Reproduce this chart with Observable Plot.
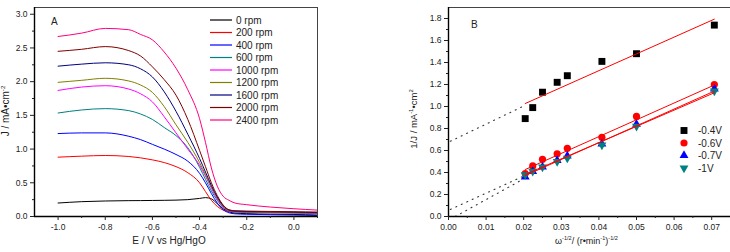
<!DOCTYPE html>
<html>
<head>
<meta charset="utf-8">
<script src="https://cdn.jsdelivr.net/npm/d3@7"></script>
<script src="https://cdn.jsdelivr.net/npm/@observablehq/plot@0.6"></script>
<style>
  body { margin: 0; background: #fff; font-family: "Liberation Sans", Arial, sans-serif; }
  #wrap { position: relative; width: 730px; height: 252px; overflow: hidden; }
  #wrap svg { position: absolute; top: 0; overflow: visible; }
</style>
</head>
<body>
<div id="wrap"></div>
<script>
// ---------- Panel A: linear sweep voltammograms at several rotation rates ----------
const potentials = [-1.0, -0.9, -0.8, -0.7, -0.65, -0.6, -0.55, -0.5, -0.45, -0.4,
                    -0.375, -0.35, -0.325, -0.3, -0.275, -0.25, -0.2, -0.1, 0.0, 0.1];
const rpmLabels = ["0 rpm", "200 rpm", "400 rpm", "600 rpm", "1000 rpm", "1200 rpm", "1600 rpm", "2000 rpm", "2400 rpm"];
const rpmColors = ["#000000", "#FF0000", "#0000FF", "#008080", "#FF00FF", "#808000", "#000080", "#800000", "#FF0080"];

const j0    = [0.20, 0.22, 0.23, 0.235, 0.236, 0.238, 0.240, 0.243, 0.250, 0.268, 0.280, 0.262, 0.190, 0.115, 0.070, 0.050, 0.042, 0.035, 0.030, 0.022];
const j200  = [0.88, 0.895, 0.905, 0.89, 0.87, 0.84, 0.80, 0.74, 0.65, 0.50, 0.37, 0.24, 0.15, 0.095, 0.075, 0.068, 0.062, 0.057, 0.052, 0.046];
const j400  = [1.23, 1.24, 1.24, 1.19, 1.14, 1.07, 1.00, 0.92, 0.82, 0.64, 0.50, 0.34, 0.20, 0.10, 0.055, 0.040, 0.033, 0.027, 0.022, 0.015];
const j600  = [1.535, 1.58, 1.60, 1.57, 1.52, 1.44, 1.32, 1.20, 1.02, 0.73, 0.55, 0.38, 0.24, 0.13, 0.08, 0.068, 0.063, 0.058, 0.053, 0.048];
const j1000 = [1.87, 1.92, 1.94, 1.89, 1.82, 1.70, 1.48, 1.24, 1.00, 0.76, 0.60, 0.42, 0.26, 0.14, 0.085, 0.075, 0.070, 0.065, 0.060, 0.055];
const j1200 = [1.99, 2.02, 2.05, 2.01, 1.95, 1.84, 1.63, 1.36, 1.10, 0.80, 0.62, 0.44, 0.28, 0.15, 0.09, 0.078, 0.072, 0.067, 0.062, 0.057];
const j1600 = [2.23, 2.26, 2.28, 2.25, 2.19, 2.07, 1.85, 1.56, 1.22, 0.86, 0.66, 0.46, 0.29, 0.16, 0.095, 0.080, 0.075, 0.070, 0.065, 0.060];
const j2000 = [2.45, 2.48, 2.52, 2.46, 2.38, 2.22, 2.03, 1.80, 1.44, 0.98, 0.74, 0.50, 0.31, 0.17, 0.10, 0.085, 0.080, 0.075, 0.070, 0.065];
const j2400 = [2.67, 2.72, 2.79, 2.77, 2.70, 2.62, 2.44, 2.20, 1.88, 1.45, 1.10, 0.72, 0.45, 0.30, 0.24, 0.20, 0.175, 0.14, 0.115, 0.095];
const currentSeries = [j0, j200, j400, j600, j1000, j1200, j1600, j2000, j2400];

const xMajorA = [-1.0, -0.8, -0.6, -0.4, -0.2, 0.0];
const xMinorA = [-0.9, -0.7, -0.5, -0.3, -0.1, 0.1];
const yMajorA = [0, 0.5, 1.0, 1.5, 2.0, 2.5, 3.0];
const yMinorA = [0.25, 0.75, 1.25, 1.75, 2.25, 2.75];

// ---------- Panel B: Koutecky-Levich plot ----------
const invSqrtOmega = [0.0204, 0.0224, 0.0250, 0.0289, 0.0316, 0.0408, 0.0500, 0.0707];
const potLabels = ["-0.4V", "-0.6V", "-0.7V", "-1V"];
const potColors = ["#000000", "#FF0000", "#0000FF", "#008080"];
const invJ04 = [0.89, 0.99, 1.13, 1.22, 1.28, 1.41, 1.48, 1.74];
const invJ06 = [0.39, 0.46, 0.52, 0.57, 0.62, 0.72, 0.91, 1.20];
const invJ07 = [0.36, 0.41, 0.45, 0.51, 0.55, 0.66, 0.84, 1.16];
const invJ10 = [0.38, 0.41, 0.45, 0.50, 0.53, 0.65, 0.82, 1.14];
const invJSeries = [invJ04, invJ06, invJ07, invJ10];

// fitted lines (end points) and their dotted extrapolations towards the origin
const fitX   = [0.0204, 0.0707];
const fit04  = [1.027, 1.794];
const fit06  = [0.427, 1.195];
const fit07  = [0.372, 1.140];
const fit10  = [0.382, 1.125];
const extX04 = [0.0005, 0.0195];
const ext04  = [0.684, 0.996];
const extXa  = [0.0005, 0.0195];
const extA   = [0.064, 0.360];
const extXb  = [0.0018, 0.0199];
const extB   = [0.0, 0.340];

const xMajorB = [0, 0.01, 0.02, 0.03, 0.04, 0.05, 0.06, 0.07];
const xMinorB = [0.005, 0.015, 0.025, 0.035, 0.045, 0.055, 0.065];
const yMajorB = [0, 0.2, 0.4, 0.6, 0.8, 1.0, 1.2, 1.4, 1.6, 1.8];
const yMinorB = [0.1, 0.3, 0.5, 0.7, 0.9, 1.1, 1.3, 1.5, 1.7];

const FONT = "'Liberation Sans', Arial, sans-serif";
const wrap = document.getElementById("wrap");

// text with superscript pieces; parts = [[text, isSup], ...]
function richText(g, x, y, parts, {size = 10, anchor = "middle", rotate = 0} = {}) {
  const t = g.append("text")
    .attr("transform", `translate(${x},${y}) rotate(${rotate})`)
    .attr("text-anchor", anchor).attr("font-size", size)
    .attr("font-family", FONT).attr("fill", "#222");
  let up = false;
  for (const [s, sup] of parts) {
    const ts = t.append("tspan").text(s);
    if (sup) {
      ts.attr("font-size", size * 0.62);
      if (!up) { ts.attr("dy", -size * 0.42); up = true; }
    } else if (up) { ts.attr("dy", size * 0.42); up = false; }
  }
  return t;
}

function plainText(g, x, y, s, size) {
  return g.append("text").attr("x", x).attr("y", y)
    .attr("text-anchor", "start").attr("font-size", size)
    .attr("font-family", FONT).attr("fill", "#222").text(s);
}

// ---------- draw panel A ----------
const curveRows = rpmLabels.flatMap((rpm, i) =>
  potentials.map((E, k) => ({rpm, E, J: currentSeries[i][k]})));

const plotA = Plot.plot({
  width: 330, height: 252,
  marginLeft: 34, marginRight: 13, marginTop: 7, marginBottom: 36,
  style: {fontFamily: FONT, fontSize: "8.5px", color: "#222", background: "transparent", overflow: "visible"},
  x: {domain: [-1.1, 0.1]},
  y: {domain: [0, 3.1]},
  color: {domain: rpmLabels, range: rpmColors},
  marks: [
    Plot.line(curveRows, {x: "E", y: "J", z: "rpm", stroke: "rpm", curve: "monotone-x", strokeWidth: 1}),
    Plot.frame({stroke: "#444", strokeWidth: 1}),
    Plot.ruleY([0], {stroke: "#000", strokeWidth: 1.4}),
    Plot.ruleX([-1.1], {stroke: "#000", strokeWidth: 1.4}),
    Plot.axisX({ticks: xMajorA, tickSize: 4, tickPadding: 3, tickFormat: d => d.toFixed(1), label: null}),
    Plot.axisX({ticks: xMinorA, tickSize: 2, tickFormat: () => "", label: null}),
    Plot.axisY({ticks: yMajorA, tickSize: 4, tickPadding: 3, tickFormat: d => d.toFixed(1), label: null}),
    Plot.axisY({ticks: yMinorA, tickSize: 2, tickFormat: () => "", label: null})
  ]
});
plotA.style.left = "0px";
wrap.appendChild(plotA);

{
  const g = d3.select(plotA).append("g");
  plainText(g, 51, 25, "A", 10);
  richText(g, 169, 244, [["E / V vs Hg/HgO", false]], {size: 10});
  richText(g, 9, 111, [["J / mA•cm", false], ["-2", true]], {size: 10, rotate: -90});
  rpmLabels.forEach((lab, i) => {
    const y = 20 + i * 12.5;
    g.append("line").attr("x1", 210).attr("x2", 232).attr("y1", y).attr("y2", y)
      .attr("stroke", rpmColors[i]).attr("stroke-width", 1.2);
    plainText(g, 236, y + 3.5, lab, 10);
  });
}

// ---------- draw panel B ----------
const pointRows = potLabels.flatMap((v, i) =>
  invSqrtOmega.map((w, k) => ({v, w, inv: invJSeries[i][k]})));
const fitRows = [fit04, fit06, fit07, fit10].flatMap((ys, i) =>
  fitX.map((w, k) => ({v: potLabels[i], w, inv: ys[k]})));
const extRows = [[extX04, ext04, "a"], [extXa, extA, "b"], [extXb, extB, "c"]].flatMap(([xs, ys, id]) =>
  xs.map((w, k) => ({id, w, inv: ys[k]})));

const symbols = {"-0.4V": "square", "-0.6V": "circle", "-0.7V": "triangle", "-1V": "triangle"};
const sizes = {"-0.4V": 3.9, "-0.6V": 3.6, "-0.7V": 3.3, "-1V": 3.3};

const plotB = Plot.plot({
  width: 350, height: 252,
  marginLeft: 68, marginRight: 0, marginTop: 7, marginBottom: 36,
  style: {fontFamily: FONT, fontSize: "8.5px", color: "#222", background: "transparent", overflow: "visible"},
  x: {domain: [0, 0.075]},
  y: {domain: [0, 1.9]},
  marks: [
    ...potLabels.map((v, i) => Plot.dot(pointRows.filter(d => d.v === v), {
      x: "w", y: "inv", symbol: symbols[v], r: sizes[v], fill: potColors[i], stroke: "none",
      rotate: v === "-1V" ? 180 : 0
    })),
    Plot.line(extRows, {x: "w", y: "inv", z: "id", stroke: "#333", strokeWidth: 1.1, strokeDasharray: "1,5"}),
    Plot.line(fitRows, {x: "w", y: "inv", z: "v", stroke: "#FF0000", strokeWidth: 1}),
    Plot.frame({stroke: "#444", strokeWidth: 1}),
    Plot.ruleY([0], {stroke: "#000", strokeWidth: 1.4}),
    Plot.ruleX([0], {stroke: "#000", strokeWidth: 1.4}),
    Plot.axisX({ticks: xMajorB, tickSize: 4, tickPadding: 3, tickFormat: d => d.toFixed(2), label: null}),
    Plot.axisX({ticks: xMinorB, tickSize: 2, tickFormat: () => "", label: null}),
    Plot.axisY({ticks: yMajorB, tickSize: 4, tickPadding: 3, tickFormat: d => d.toFixed(1), label: null}),
    Plot.axisY({ticks: yMinorB, tickSize: 2, tickFormat: () => "", label: null})
  ]
});
plotB.style.left = "380px";
wrap.appendChild(plotB);

{
  const g = d3.select(plotB).append("g");
  plainText(g, 91, 28, "B", 10);
  richText(g, 175, 244, [["ω", false], ["-1/2", true], ["/ (r•min", false], ["-1", true], [")", false], ["-1/2", true]],
    {size: 9, anchor: "start"});
  richText(g, 37, 119, [["1/J / mA", false], ["-1", true], ["•cm", false], ["2", true]], {size: 9.5, rotate: -90});
  const symType = {"-0.4V": d3.symbolSquare, "-0.6V": d3.symbolCircle, "-0.7V": d3.symbolTriangle, "-1V": d3.symbolTriangle};
  potLabels.forEach((lab, i) => {
    const y = 130.5 + i * 12.5;
    const r = sizes[lab];
    g.append("path")
      .attr("d", d3.symbol(symType[lab], Math.PI * r * r)())
      .attr("transform", `translate(304,${y}) rotate(${lab === "-1V" ? 180 : 0})`)
      .attr("fill", potColors[i]);
    plainText(g, 318, y + 3.5, lab, 10);
  });
}
</script>
</body>
</html>
